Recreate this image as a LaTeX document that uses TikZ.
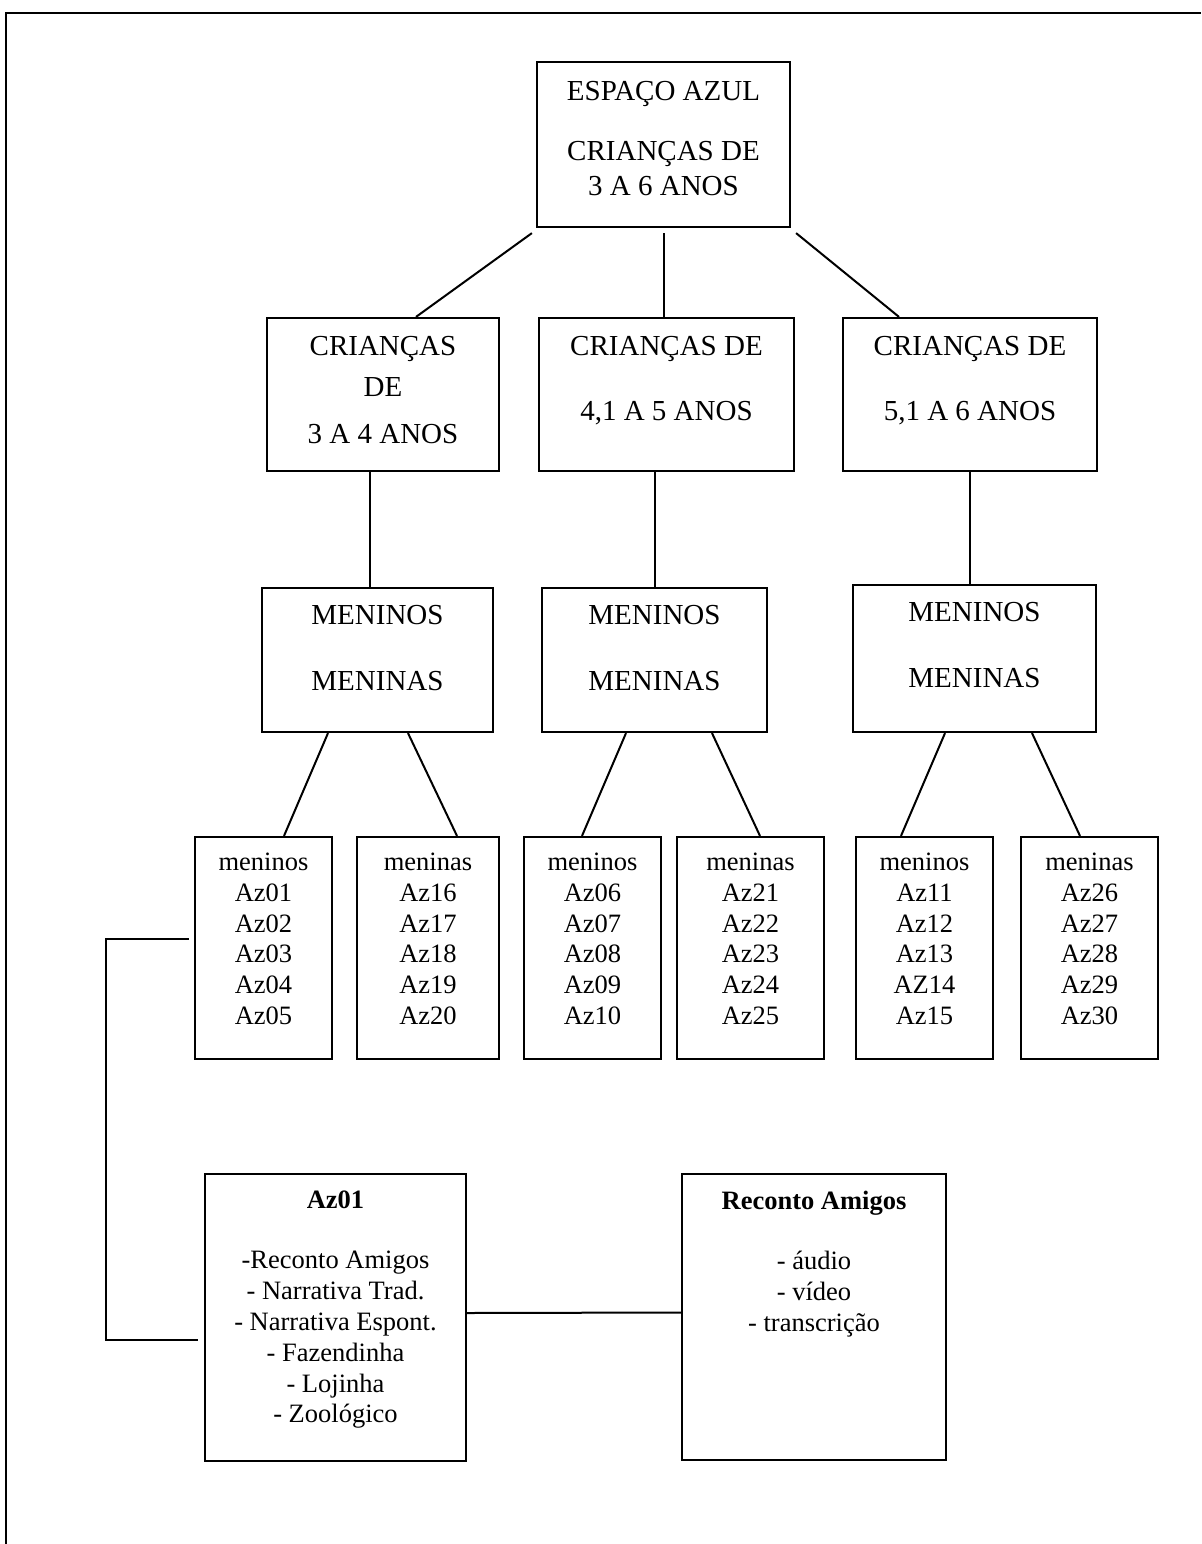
\documentclass[tikz,border=0pt]{standalone}
\usepackage{fontspec}
\setmainfont{Liberation Serif}
\usetikzlibrary{positioning}

\begin{document}
\begin{tikzpicture}[
      x=0.5pt, y=-0.5pt,
      box/.style={draw, line width=1.1pt, inner sep=0pt},
      bigtext/.style={align=center, inner sep=0pt, font=\fontsize{14.5}{17.5}\selectfont},
      smalltext/.style={align=center, inner sep=0pt, font=\fontsize{13.25}{15.4}\selectfont},
      link/.style={line width=1pt}
    ]
    \useasboundingbox (0,0) rectangle (1201,1544);
    \draw[line width=1.3pt] (6,1544) -- (6,13) -- (1201,13);

    % top level
    \node[box, minimum width=126.5pt, minimum height=82.5pt] (top) at (663.5,144.5) {};
    \node[bigtext, below=10.2pt of top.north] (top-t) {ESPAÇO AZUL\\[12.5pt]CRIANÇAS DE\\3 A 6 ANOS};

    % age groups
    \node[box, minimum width=116pt, minimum height=76.5pt] (l2a) at (383,394.5) {};
    \node[bigtext, below=9.7pt of l2a.north] (l2a-t) {CRIANÇAS\\[3pt]DE\\[6pt]3 A 4 ANOS};
    \node[box, minimum width=127.5pt, minimum height=76.5pt] (l2b) at (666.5,394.5) {};
    \node[bigtext, below=9.7pt of l2b.north] (l2b-t) {CRIANÇAS DE\\[15pt]4,1 A 5 ANOS};
    \node[box, minimum width=127pt, minimum height=76.5pt] (l2c) at (970,394.5) {};
    \node[bigtext, below=9.7pt of l2c.north] (l2c-t) {CRIANÇAS DE\\[15pt]5,1 A 6 ANOS};

    % boys / girls
    \node[box, minimum width=115.5pt, minimum height=72pt] (l3a) at (377.5,660) {};
    \node[bigtext, below=9.2pt of l3a.north] (l3a-t) {MENINOS\\[15.5pt]MENINAS};
    \node[box, minimum width=112.5pt, minimum height=72pt] (l3b) at (654.5,660) {};
    \node[bigtext, below=9.2pt of l3b.north] (l3b-t) {MENINOS\\[15.5pt]MENINAS};
    \node[box, minimum width=121.5pt, minimum height=73.5pt] (l3c) at (974.5,658.5) {};
    \node[bigtext, below=9.2pt of l3c.north] (l3c-t) {MENINOS\\[15.5pt]MENINAS};

    % children
    \node[box, minimum width=68.5pt, minimum height=111pt] (b1) at (263.5,948) {};
    \node[smalltext, below=8.35pt of b1.north] (b1-t) {meninos\\Az01\\Az02\\Az03\\Az04\\Az05};
    \node[box, minimum width=71pt, minimum height=111pt] (b2) at (428,948) {};
    \node[smalltext, below=8.35pt of b2.north] (b2-t) {meninas\\Az16\\Az17\\Az18\\Az19\\Az20};
    \node[box, minimum width=68.5pt, minimum height=111pt] (b3) at (592.5,948) {};
    \node[smalltext, below=8.35pt of b3.north] (b3-t) {meninos\\Az06\\Az07\\Az08\\Az09\\Az10};
    \node[box, minimum width=73.5pt, minimum height=111pt] (b4) at (750.5,948) {};
    \node[smalltext, below=8.35pt of b4.north] (b4-t) {meninas\\Az21\\Az22\\Az23\\Az24\\Az25};
    \node[box, minimum width=68.5pt, minimum height=111pt] (b5) at (924.5,948) {};
    \node[smalltext, below=8.35pt of b5.north] (b5-t) {meninos\\Az11\\Az12\\Az13\\AZ14\\Az15};
    \node[box, minimum width=68.5pt, minimum height=111pt] (b6) at (1089.5,948) {};
    \node[smalltext, below=8.35pt of b6.north] (b6-t) {meninas\\Az26\\Az27\\Az28\\Az29\\Az30};

    % detail of Az01
    \node[box, minimum width=130.5pt, minimum height=143.5pt] (a1) at (335.5,1317.5) {};
    \node[smalltext, below=9pt of a1.north] (a1-t) {\textbf{Az01}\\[14.6pt]-Reconto Amigos\\- Narrativa Trad.\\- Narrativa Espont.\\- Fazendinha\\- Lojinha\\- Zoológico};
    \node[box, minimum width=132pt, minimum height=143pt] (r1) at (814,1317) {};
    \node[smalltext, below=9pt of r1.north] (r1-t) {\textbf{Reconto Amigos}\\[14.6pt]- áudio\\- vídeo\\- transcrição};

    \draw[link] ([xshift=-2pt,yshift=-2.5pt]top.south west) -- ([xshift=16.5pt]l2a.north);
    \draw[link] ([yshift=-2.5pt]top.south) -- (top.south |- l2b.north);
    \draw[link] ([xshift=2.5pt,yshift=-2.5pt]top.south east) -- ([xshift=-35.5pt]l2c.north);

    \draw[link] ([xshift=-3.75pt]l3a.north) -- ([xshift=-3.75pt]l3a.north |- l2a.south);
    \draw[link] (l3b.north) -- (l3b.north |- l2b.south);
    \draw[link] (l2c.south) -- (l2c.south |- l3c.north);

    \draw[link] ([xshift=-24.75pt]l3a.south) -- ([xshift=10.25pt]b1.north);
    \draw[link] ([xshift=15.25pt]l3a.south) -- ([xshift=14.5pt]b2.north);
    \draw[link] ([xshift=-14.25pt]l3b.south) -- ([xshift=-5.25pt]b3.north);
    \draw[link] ([xshift=28.75pt]l3b.south) -- ([xshift=4.75pt]b4.north);
    \draw[link] ([xshift=-14.75pt]l3c.south) -- ([xshift=-11.75pt]b5.north);
    \draw[link] ([xshift=28.75pt]l3c.south) -- ([xshift=-4.75pt]b6.north);

    \draw[link] ([xshift=-2.5pt,yshift=4.5pt]b1.west) -- ++(-83,0) |- ([xshift=-3pt,yshift=-11.25pt]a1.west);
    \draw[link] ([yshift=2.25pt]a1.east) -- ([yshift=2.25pt]r1.west);
  \end{tikzpicture}
\end{document}
